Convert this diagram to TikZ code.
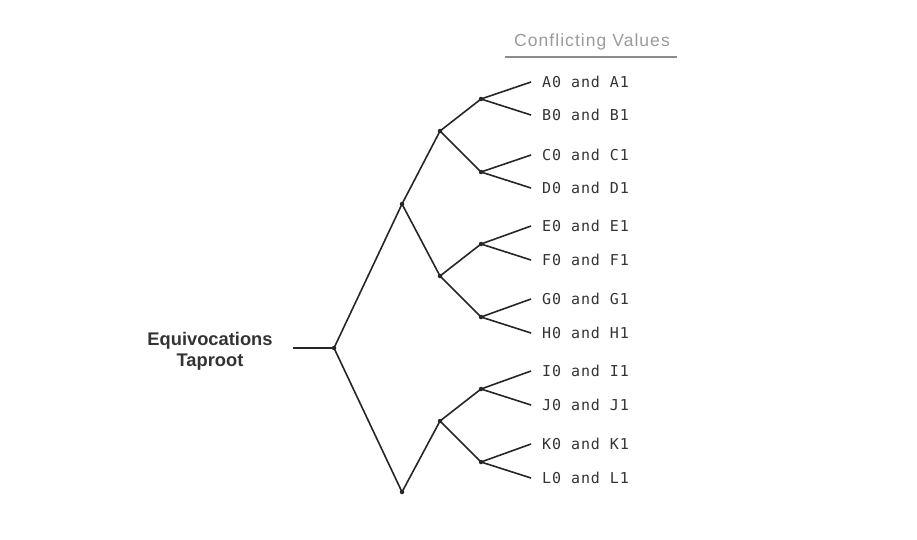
\documentclass[tikz,border=0pt]{standalone}
\usepackage{fontspec}
\setmainfont{Liberation Sans}
\newfontfamily\monolabel[LetterSpace=6]{DejaVu Sans Mono}
\newfontfamily\headfont[LetterSpace=6]{Liberation Sans}
\usepackage{xcolor}
\usetikzlibrary{positioning}
\definecolor{inkline}{HTML}{262626}
\definecolor{inktext}{HTML}{333333}
\definecolor{headgray}{HTML}{9A9A9A}
\definecolor{rulegray}{HTML}{8C8C8C}
\tikzset{
  % tree styles
  branch/.style={draw=inkline, line width=1.6pt},
  junction/.style={circle, fill=inkline, inner sep=0pt, minimum size=4.5pt},
  leaf/.style={anchor=west, inner xsep=11pt, inner ysep=0pt, text=inktext, font=\monolabel\fontsize{15}{17}\selectfont},
  rootlabel/.style={align=center, text=inktext, font=\bfseries\fontsize{18.3}{21}\selectfont},
  header/.style={text=headgray, font=\headfont\fontsize{17.5}{20}\selectfont},
}
\begin{document}
\begin{tikzpicture}[x=1pt, y=-1pt]
    \useasboundingbox (0,0) rectangle (917,539);

    % Root label
    \node[rootlabel] (root) at (210,351) {Equivocations\\Taproot};
    \coordinate (rootin) at (293,348);

    % Junctions
    \node[junction] (r) at (334,348) {};
    \node[junction] (n1) at (402,204) {};
    \node[junction] (n2) at (402,492) {};
    \node[junction] (n11) at (440,131) {};
    \node[junction] (n12) at (440,276) {};
    \node[junction] (n21) at (440,421) {};
    \node[junction] (n111) at (481,99) {};
    \node[junction] (n112) at (481,172) {};
    \node[junction] (n121) at (481,244) {};
    \node[junction] (n122) at (481,317) {};
    \node[junction] (n211) at (481,389) {};
    \node[junction] (n212) at (481,462) {};

    % Leaves
    \node[leaf] (a) at (531,82) {A0 and A1};
    \node[leaf] (b) at (531,115) {B0 and B1};
    \node[leaf] (c) at (531,155) {C0 and C1};
    \node[leaf] (d) at (531,188) {D0 and D1};
    \node[leaf] (e) at (531,226) {E0 and E1};
    \node[leaf] (f) at (531,260) {F0 and F1};
    \node[leaf] (g) at (531,299) {G0 and G1};
    \node[leaf] (h) at (531,333) {H0 and H1};
    \node[leaf] (i) at (531,371) {I0 and I1};
    \node[leaf] (j) at (531,405) {J0 and J1};
    \node[leaf] (k) at (531,444) {K0 and K1};
    \node[leaf] (l) at (531,478) {L0 and L1};

    % Header
    \node[header] (head) at (592,42) {Conflicting Values};
    \coordinate (ruleL) at (505,57);
    \coordinate (ruleR) at (677,57);
    \draw[rulegray, line width=1.5pt] (ruleL) -- (ruleR);

    % Branches
    \draw[branch] (rootin) -- (r.center);
    \draw[branch] (r.center) -- (n1.center);
    \draw[branch] (r.center) -- (n2.center);
    \draw[branch] (n1.center) -- (n11.center);
    \draw[branch] (n1.center) -- (n12.center);
    \draw[branch] (n2.center) -- (n21.center);
    \draw[branch] (n11.center) -- (n111.center);
    \draw[branch] (n11.center) -- (n112.center);
    \draw[branch] (n12.center) -- (n121.center);
    \draw[branch] (n12.center) -- (n122.center);
    \draw[branch] (n21.center) -- (n211.center);
    \draw[branch] (n21.center) -- (n212.center);
    \draw[branch] (n111.center) -- (a.west);
    \draw[branch] (n111.center) -- (b.west);
    \draw[branch] (n112.center) -- (c.west);
    \draw[branch] (n112.center) -- (d.west);
    \draw[branch] (n121.center) -- (e.west);
    \draw[branch] (n121.center) -- (f.west);
    \draw[branch] (n122.center) -- (g.west);
    \draw[branch] (n122.center) -- (h.west);
    \draw[branch] (n211.center) -- (i.west);
    \draw[branch] (n211.center) -- (j.west);
    \draw[branch] (n212.center) -- (k.west);
    \draw[branch] (n212.center) -- (l.west);
  \end{tikzpicture}
\end{document}
